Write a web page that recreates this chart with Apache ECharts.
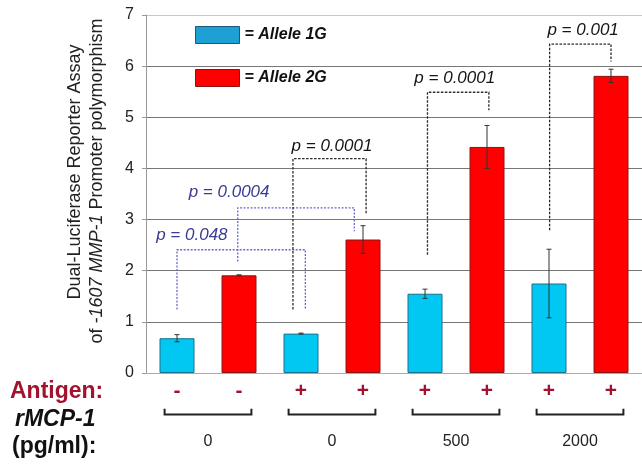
<!DOCTYPE html>
<html><head><meta charset="utf-8">
<script src="https://cdn.jsdelivr.net/npm/echarts@6/dist/echarts.min.js"></script>
<style>html,body{margin:0;padding:0;background:#fff}#c{width:642px;height:465px}</style>
</head><body><div id="c"></div>
<script>
// ---- data ----
const barIds = ['b1','b2','b3','b4','b5','b6','b7','b8'];
const antigenSigns = ['-','-','+','+','+','+','+','+'];
const doseLabels = ['0','0','500','2000'];
const allele1G = [0.68, 0.77, 1.55, 1.75];
const allele1GErr = [0.07, 0.01, 0.09, 0.67];
const allele2G = [1.91, 2.61, 4.42, 5.81];
const allele2GErr = [0.01, 0.27, 0.42, 0.13];
const yTicks = [0,1,2,3,4,5,6,7];
const pValues = ['p = 0.048','p = 0.0004','p = 0.0001','p = 0.0001','p = 0.001'];
// bracket geometry in data units: [leftX, leftBottom, rightX, rightBottom, top, labelX, labelY]
const bracketGeom = [
  [0.00, 1.24, 2.07, 1.24, 2.41, 0.24, 2.70],
  [0.98, 2.18, 2.86, 2.77, 3.23, 0.84, 3.53],
  [1.87, 1.24, 3.05, 3.12, 4.19, 2.50, 4.43],
  [4.04, 2.31, 5.03, 5.14, 5.49, 4.48, 5.76],
  [6.01, 2.79, 7.00, 6.09, 6.43, 6.55, 6.70]
];
const bracketKind = ['purple','purple','black','black','black'];

const FF = '"Liberation Sans", Arial, sans-serif';
const BLUE = '#00c8f2', RED = '#ff0000';

const chart = echarts.init(document.getElementById('c'));

function renderErr(params, api){
  const x = api.value(0), lo = api.value(1), hi = api.value(2);
  const a = api.coord([x, hi]), b = api.coord([x, lo]);
  const w = 2.5, st = {stroke:'#333', lineWidth:1};
  return {type:'group', children:[
    {type:'line', shape:{x1:a[0],y1:a[1],x2:b[0],y2:b[1]}, style:st},
    {type:'line', shape:{x1:a[0]-w,y1:a[1],x2:a[0]+w,y2:a[1]}, style:st},
    {type:'line', shape:{x1:b[0]-w,y1:b[1],x2:b[0]+w,y2:b[1]}, style:st}
  ]};
}

function renderBracket(params, api){
  const i = params.dataIndex;
  const g = bracketGeom[i];
  const p1 = api.coord([g[0], g[1]]), p2 = api.coord([g[0], g[4]]);
  const p3 = api.coord([g[2], g[4]]), p4 = api.coord([g[2], g[3]]);
  const lp = api.coord([g[5], g[6]]);
  const purple = bracketKind[i] === 'purple';
  return {type:'group', children:[
    {type:'polyline', shape:{points:[p1,p2,p3,p4]},
     style:{stroke: purple ? '#6a6ac8' : '#2a2a2a', lineWidth: 1.3, lineDash: purple ? [2,1.5] : [2.5,1.5], fill:null}},
    {type:'text', x: lp[0], y: lp[1],
     style:{text: pValues[i], align:'center', verticalAlign:'middle',
            fill: purple ? '#3b3b94' : '#151515', font: 'italic 17px ' + FF}}
  ]};
}

function renderPair(params, api){
  const k = params.dataIndex;
  const xl = api.value(0) - 0.2, xr = api.value(0) + 1.2;
  const a = api.coord([xl, -0.70]), b = api.coord([xl, -0.81]);
  const c = api.coord([xr, -0.81]), d = api.coord([xr, -0.70]);
  const t = api.coord([api.value(0) + 0.5, -1.34]);
  return {type:'group', children:[
    {type:'polyline', shape:{points:[a,b,c,d]}, style:{stroke:'#222', lineWidth:2, fill:null}},
    {type:'text', x:t[0], y:t[1], style:{text: doseLabels[k], align:'center', verticalAlign:'middle', fill:'#222', font:'16px ' + FF}}
  ]};
}

const option = {
  animation: false,
  backgroundColor: '#fff',
  grid: {left:146, width:500, top:15, height:358, containLabel:false},
  legend: {
    orient:'vertical', left:195, top:26, itemWidth:44, itemHeight:17, itemGap:25, padding:0,
    icon:'rect', selectedMode:false,
    textStyle:{fontSize:16, fontWeight:'bold', fontStyle:'italic', color:'#111', fontFamily:FF},
    formatter: n => '= ' + n,
    data:[
      {name:'Allele 1G', itemStyle:{color:'#1ea0d4', borderColor:'#1a5a78', borderWidth:1}},
      {name:'Allele 2G', itemStyle:{color:RED, borderColor:'#8a1515', borderWidth:1}}
    ]
  },
  xAxis: [
    {type:'category', data: barIds, boundaryGap:true,
     axisLine:{show:true, onZero:false, lineStyle:{color:'#aaa', width:1}},
     axisTick:{show:false},
     axisLabel:{formatter:(v,i)=>antigenSigns[i], color:'#a3132f', fontSize:21, fontWeight:'bold', fontFamily:FF, margin:8, interval:0},
     splitLine:{show:false}},
    {type:'value', min:-0.5, max:7.5, show:false}
  ],
  yAxis: {
    type:'value', min:0, max:7, interval:1,
    axisLine:{show:true, onZero:false, lineStyle:{color:'#999'}},
    axisTick:{show:true, length:4, lineStyle:{color:'#999'}},
    axisLabel:{color:'#222', fontSize:16, fontFamily:FF, margin:12},
    splitLine:{show:true, lineStyle:{color:['#aaa','#777','#777','#777','#777','#777','#777','#c8c8c8'], width:1}}
  },
  graphic: [
    {type:'text', x:75, y:172, rotation:Math.PI/2,
     style:{text:'Dual-Luciferase Reporter Assay', align:'center', verticalAlign:'middle', fill:'#222', font:'18px ' + FF}},
    {type:'text', x:97, y:181, rotation:Math.PI/2,
     style:{text:'of {i|-1607 MMP-1} Promoter polymorphism', align:'center', verticalAlign:'middle', fill:'#222', font:'18px ' + FF,
            rich:{i:{fontStyle:'italic', fontSize:18, fontFamily:FF, fill:'#222'}}}},
    {type:'text', x:10, y:392, style:{text:'Antigen:', verticalAlign:'middle', fill:'#a3132f', font:'bold 23px ' + FF}},
    {type:'text', x:15, y:420, style:{text:'rMCP-1', verticalAlign:'middle', fill:'#111', font:'italic bold 23px ' + FF}},
    {type:'text', x:12, y:447, style:{text:'(pg/ml):', verticalAlign:'middle', fill:'#111', font:'bold 23px ' + FF}}
  ],
  series: [
    {name:'Allele 1G', type:'bar', barWidth:35, barGap:'-100%',
     itemStyle:{color:BLUE, borderColor:'#1a6f8c', borderWidth:1},
     data: allele1G.map((v,k)=>[2*k, v])},
    {name:'Allele 2G', type:'bar', barWidth:35, barGap:'-100%',
     itemStyle:{color:RED, borderColor:'#8a1515', borderWidth:1},
     data: allele2G.map((v,k)=>[2*k+1, v])},
    {type:'custom', xAxisIndex:1, renderItem:renderErr, z:5, clip:false, encode:{x:0, y:[1,2]},
     data: allele1G.map((v,k)=>[2*k, v-allele1GErr[k], v+allele1GErr[k]])
           .concat(allele2G.map((v,k)=>[2*k+1, v-allele2GErr[k], v+allele2GErr[k]]))},
    {type:'custom', xAxisIndex:1, renderItem:renderBracket, z:6, clip:false, encode:{x:0, y:1},
     data: bracketGeom.map(g=>[g[0], g[1]])},
    {type:'custom', xAxisIndex:1, renderItem:renderPair, z:6, clip:false, encode:{x:0, y:1},
     data: doseLabels.map((d,k)=>[2*k, 0])}
  ]
};
chart.setOption(option);
</script>
</body></html>
